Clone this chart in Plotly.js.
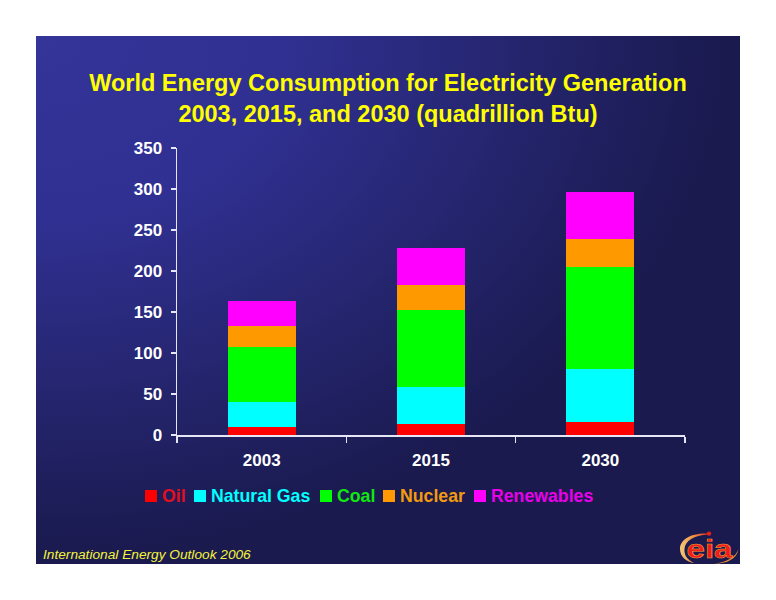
<!DOCTYPE html>
<html><head><meta charset="utf-8">
<script src="https://cdn.plot.ly/plotly-3.0.1.min.js"></script>
<style>
html,body{margin:0;padding:0;background:#fff;width:776px;height:600px;overflow:hidden}
#bg{position:absolute;left:36px;top:36px;width:704px;height:528px;background:radial-gradient(704px 528px at 0 0,#343499 0%,#303092 35%,#262672 65%,#1c1c55 92%,#1a1a4e 100%)}
#chart{position:absolute;left:0;top:0;width:776px;height:600px}
</style></head><body>
<div id="bg"></div><div id="chart"></div>
<script>
const years = ['2003','2015','2030'];
const oil = [10,13,16];
const naturalGas = [30,46,64];
const coal = [67,94,125];
const nuclear = [26,30,34];
const renewables = [30,45,57];
const yTicks = [0,50,100,150,200,250,300,350];
const seriesNames = ['Oil','Natural Gas','Coal','Nuclear','Renewables'];
const seriesColors = ['#ff0000','#00ffff','#00ff00','#ff9900','#ff00ff'];
const legendTextColors = ['#e01020','#00ffff','#10e810','#f29a10','#e800e8'];
const seriesValues = [oil,naturalGas,coal,nuclear,renewables];

const fontFamily = '"Liberation Sans",Arial,sans-serif';
const traces = seriesNames.map((n,i)=>({type:'bar',name:n,x:years,y:seriesValues[i],
  marker:{color:seriesColors[i],line:{width:0}},hovertemplate:n+': %{y}<extra></extra>'}));

const W=776,H=600;
const plotL=177,plotT=148,plotW=508,plotH=287;
const px=x=>(x-plotL)/plotW, py=y=>(plotT+plotH-y)/plotH;
const legendX = [145,194,320,383,474];   // swatch left edges in px
const legendY = 496;
const shapes = legendX.map((x,i)=>({type:'rect',xref:'paper',yref:'paper',
  x0:px(x),x1:px(x+12),y0:py(legendY+6),y1:py(legendY-6),
  fillcolor:seriesColors[i],line:{width:0}}));
const annotations = seriesNames.map((n,i)=>({xref:'paper',yref:'paper',
  x:px(legendX[i]+15),y:py(legendY),xanchor:'left',yanchor:'middle',showarrow:false,
  text:'<b>'+n+'</b>',font:{family:fontFamily,size:17.7,color:legendTextColors[i]}}));
annotations.push({xref:'paper',yref:'paper',x:px(41),y:py(554),xanchor:'left',yanchor:'middle',
  showarrow:false,text:'<i>International Energy Outlook 2006</i>',font:{family:fontFamily,size:13.7,color:'#f4f43a'}});

const logo = `<svg xmlns="http://www.w3.org/2000/svg" width="180" height="102" viewBox="0 0 60 34">
<defs><linearGradient id="g" x1="0" x2="1" y1="0" y2="0"><stop offset="0" stop-color="#f6c878"/><stop offset="0.5" stop-color="#ee9040"/><stop offset="1" stop-color="#e83020"/></linearGradient></defs>
<path d="M28 2.6 C10 2 0 9 0 18 C0 26 7 31 14 32 C8 29 4 25 4.5 18 C5 10 14 4.5 28 3.6Z" fill="url(#g)"/>
<circle cx="29" cy="2.6" r="2.2" fill="#e8201c"/>
<text x="6.5" y="27" font-family="Liberation Sans,Arial" font-weight="bold" font-size="26" fill="#ee1c1c" stroke="#f0a030" stroke-width="0.5" textLength="46" lengthAdjust="spacingAndGlyphs">eia</text>
<path d="M58.5 18 C56 26 47 31 34 33 C47 32.5 57 28 58.5 18Z" fill="#f09030"/>
</svg>`;

const layout = {
  width:W,height:H,autosize:false,barmode:'stack',bargap:0.6,showlegend:false,
  paper_bgcolor:'rgba(0,0,0,0)',plot_bgcolor:'rgba(0,0,0,0)',
  margin:{l:plotL,r:W-plotL-plotW,t:plotT,b:H-plotT-plotH,pad:0},
  font:{family:fontFamily,color:'#ffffff'},
  title:{text:'<b>World Energy Consumption for Electricity Generation<br>2003, 2015, and 2030 (quadrillion Btu)</b>',
    font:{family:fontFamily,size:23.5,color:'#ffff00'},x:0.5,xanchor:'center',xref:'container',y:1-91/600,yanchor:'middle',yref:'container'},
  xaxis:{type:'category',range:[-0.5,2.5],tickson:'boundaries',ticks:'outside',ticklen:6,tickwidth:1.5,tickcolor:'#e6e6f5',
    ticklabelstandoff:9,showline:true,linecolor:'#e6e6f5',linewidth:1.5,showgrid:false,zeroline:false,
    tickfont:{family:fontFamily,size:17,color:'#ffffff',weight:'bold'},fixedrange:true},
  yaxis:{range:[0,350],tickvals:yTicks,ticktext:yTicks.map(String),ticks:'outside',ticklen:5,tickwidth:1.5,tickcolor:'#e6e6f5',
    ticklabelstandoff:5,showline:true,linecolor:'#e6e6f5',linewidth:1.5,showgrid:false,zeroline:false,
    tickfont:{family:fontFamily,size:17,color:'#ffffff',weight:'bold'},fixedrange:true},
  shapes,annotations,
  images:[{source:'data:image/svg+xml;base64,'+btoa(logo),xref:'paper',yref:'paper',
    x:px(680),y:py(531),sizex:60/plotW,sizey:34/plotH,xanchor:'left',yanchor:'top',sizing:'stretch',layer:'above'}]
};
Plotly.newPlot('chart',traces,layout,{displayModeBar:false,staticPlot:true});
</script></body></html>
